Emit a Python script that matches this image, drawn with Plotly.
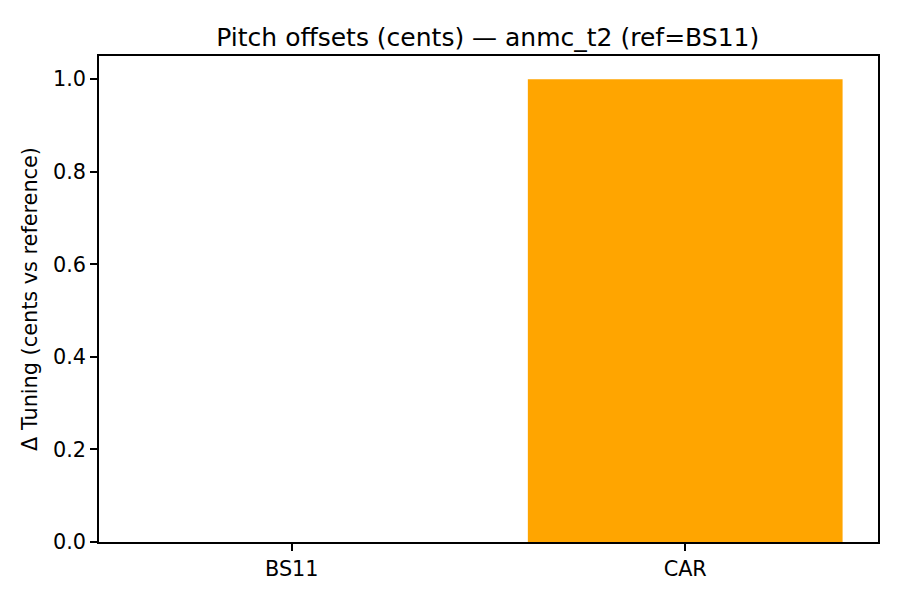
import plotly.graph_objects as go

# Pitch offsets relative to the reference singer
CATEGORIES = ['BS11', 'CAR']
OFFSETS = [0.0, 1.0]
TICK_VALS = [0.0, 0.2, 0.4, 0.6, 0.8, 1.0]
TICK_TEXT = ['0.0', '0.2', '0.4', '0.6', '0.8', '1.0']

FONT = 'DejaVu Sans'


def main():
    fig = go.Figure()
    fig.add_trace(go.Bar(x=[0, 1], y=OFFSETS, width=0.8,
                         marker=dict(color='#FFA500', line=dict(width=0)),
                         showlegend=False))

    fig.update_layout(
        width=900, height=600,
        paper_bgcolor='white', plot_bgcolor='white',
        margin=dict(l=99, r=22, t=56, b=58),
        font=dict(family=FONT, size=20.8, color='black'),
        title=dict(text='Pitch offsets (cents) — anmc_t2 (ref=BS11)',
                   x=0.542, xanchor='center', y=1 - 37 / 600, yanchor='middle',
                   font=dict(family=FONT, size=25, color='black')),
    )
    fig.update_xaxes(range=[-0.49, 1.49], tickvals=[0, 1], ticktext=CATEGORIES,
                     showgrid=False, zeroline=False,
                     showline=True, linecolor='black', linewidth=1.6, mirror=True,
                     ticks='outside', ticklen=7, tickwidth=1.6, tickcolor='black')
    fig.update_yaxes(range=[0, 1.05], tickvals=TICK_VALS, ticktext=TICK_TEXT,
                     title=dict(text='Δ Tuning (cents vs reference)', standoff=10,
                                font=dict(family=FONT, size=20.8, color='black')),
                     showgrid=False, zeroline=False,
                     showline=True, linecolor='black', linewidth=1.6, mirror=True,
                     ticks='outside', ticklen=7, tickwidth=1.6, tickcolor='black')

    # drop the default page margin so the figure sits at the window corner
    fig.write_html('out.html', config={'displayModeBar': False},
                   post_script="document.body.style.margin='0';")


if __name__ == '__main__':
    main()
